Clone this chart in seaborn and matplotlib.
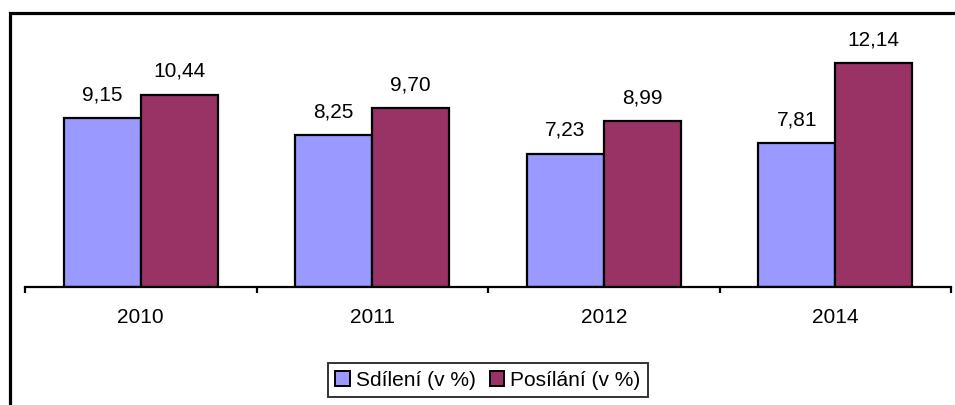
import matplotlib
matplotlib.use("Agg")
import matplotlib.pyplot as plt
from matplotlib.lines import Line2D
from matplotlib.ticker import FixedLocator
import seaborn as sns
import pandas as pd

years = ["2010", "2011", "2012", "2014"]
sdileni = [9.15, 8.25, 7.23, 7.81]
posilani = [10.44, 9.70, 8.99, 12.14]
series_names = ["Sdílení (v %)", "Posílání (v %)"]
colors = ["#9999FF", "#993366"]

df = pd.DataFrame({
    "year": years * 2,
    "value": sdileni + posilani,
    "series": [series_names[0]] * len(years) + [series_names[1]] * len(years),
})

sns.set_theme(style="white")
plt.rcParams["font.family"] = ["Liberation Sans", "DejaVu Sans"]

W, H = 955, 405
fig = plt.figure(figsize=(W / 100, H / 100), dpi=100)
ax_left, ax_right, ax_base, ax_top = 25, 951, 287, 13
ax = fig.add_axes([ax_left / W, (H - ax_base) / H, (ax_right - ax_left) / W, (ax_base - ax_top) / H])

sns.barplot(data=df, x="year", y="value", hue="series", order=years,
            hue_order=series_names, palette=colors, saturation=1, width=0.665, gap=0,
            edgecolor="black", linewidth=1.6, ax=ax, legend=False)

ax.set_ylim(0, (ax_base - ax_top) / 18.43)
ax.set_xlim(-0.5, len(years) - 0.5)
ax.set_xlabel("")
ax.set_ylabel("")
ax.set_yticks([])
for s in ["top", "right", "left"]:
    ax.spines[s].set_visible(False)
ax.spines["bottom"].set_color("black")
ax.spines["bottom"].set_linewidth(1.6)

ax.xaxis.set_minor_locator(FixedLocator([i - 0.5 for i in range(len(years) + 1)]))
ax.tick_params(axis="x", which="minor", bottom=True, length=4, width=1.6, color="black")
ax.tick_params(axis="x", which="major", bottom=False, length=0, pad=15,
               labelsize=15, labelcolor="black")

for cont in ax.containers:
    ax.bar_label(cont, labels=[f"{v:.2f}".replace(".", ",") for v in cont.datavalues],
                 padding=10, fontsize=15, color="black")

handles = [plt.Rectangle((0, 0), 1, 1, facecolor=c, edgecolor="black", linewidth=1.4) for c in colors]
leg = fig.legend(handles, series_names, loc="center", bbox_to_anchor=(488 / W, 1 - 380 / H),
                 ncol=2, frameon=True, fancybox=False, fontsize=15, handlelength=0.7,
                 handleheight=0.7, handletextpad=0.3, columnspacing=0.65, borderpad=0.35,
                 borderaxespad=0)
leg.get_frame().set_edgecolor("black")
leg.get_frame().set_linewidth(1.4)
for t in leg.get_texts():
    t.set_color("black")

# outer frame (left and top edges, as visible in reference)
fx = 9.5 / W
fy = 1 - 13 / H
fig.add_artist(Line2D([fx, fx, 1.0], [0.0, fy, fy], transform=fig.transFigure,
                      color="black", linewidth=2.3, solid_joinstyle="miter"))

fig.savefig("out.png", dpi=100, facecolor="white")
